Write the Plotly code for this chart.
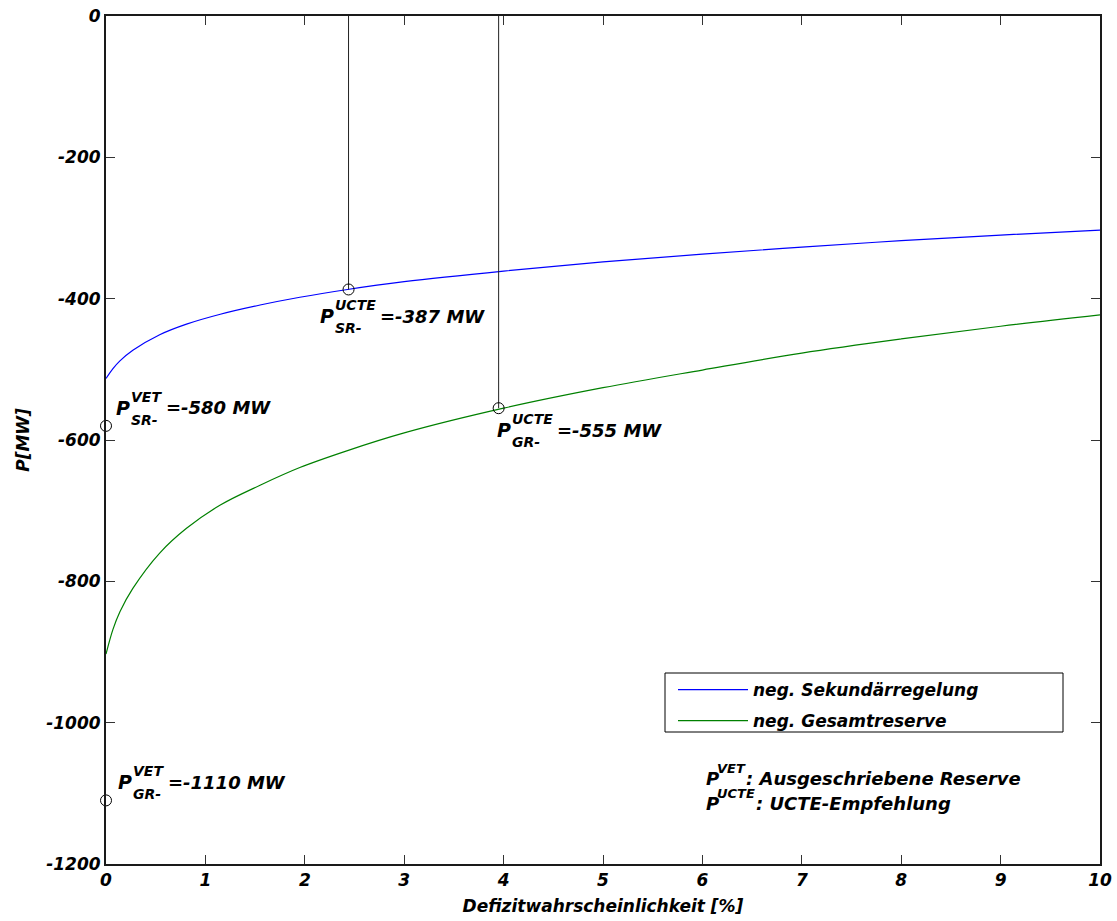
import plotly.graph_objects as go

# Deficit probability [%] at the sampled points of both reserve curves
x_pct = [0, 0.07, 0.14, 0.27, 0.54, 0.81, 1.15, 1.55, 1.95, 2.43,
         3.0, 4.0, 5.0, 6.0, 7.0, 8.0, 9.0, 10.0]
# Required negative reserve [MW]
p_sekundaer = [-513, -499, -488, -473, -451, -436, -422, -409, -398, -387,
               -376, -361, -348, -337, -327, -318, -310, -303]
p_gesamt = [-903, -868, -843, -810, -760, -725, -692, -664, -639, -615,
            -590, -555, -526, -501, -477, -457, -439, -423]

series_names = ["neg. Sekundärregelung", "neg. Gesamtreserve"]
series_colors = ["#0000ff", "#008000"]

# Tendered reserve (VET) and UCTE recommendation (UCTE) points
vet_x = [0, 0]
vet_y = [-580, -1110]
vet_sub = ["SR-", "GR-"]
ucte_x = [2.44, 3.95]
ucte_y = [-387, -555]
ucte_sub = ["SR-", "GR-"]

x_ticks = [0, 1, 2, 3, 4, 5, 6, 7, 8, 9, 10]
x_ticklabels = ["0", "1", "2", "3", "4", "5", "6", "7", "8", "9", "10"]
y_ticks = [-1200, -1000, -800, -600, -400, -200, 0]
y_ticklabels = ["-1200", "-1000", "-800", "-600", "-400", "-200", "0"]

W, H = 1117, 921
ML, MR, MT, MB = 106, 17, 16, 57
PW, PH = W - ML - MR, H - MT - MB

FAM = "DejaVu Sans"


def bfont(size):
    return dict(family=FAM, size=size, color="black", weight="bold", style="italic")


# DejaVu Sans Bold advance widths (em) for sizing the stacked super/subscripts
ADV = {"U": 0.812, "C": 0.734, "T": 0.682, "E": 0.683, "V": 0.774,
       "S": 0.720, "R": 0.770, "G": 0.821, "-": 0.411}


def text_w(s, size):
    return sum(ADV.get(c, 0.7) for c in s) * size


def px_x(px):
    return (px - ML) / PW


def px_y(py):
    return (MT + PH - py) / PH


fig = go.Figure()

for xs, ys, name, col in zip([x_pct, x_pct], [p_sekundaer, p_gesamt], series_names, series_colors):
    fig.add_trace(go.Scatter(
        x=xs, y=ys, mode="lines", name=name,
        line=dict(color=col, width=1.2, shape="spline", smoothing=1.0),
        legendgroup=name,
    ))

# drop lines from the top axis down to the UCTE points
for ux, uy in zip(ucte_x, ucte_y):
    fig.add_trace(go.Scatter(
        x=[ux, ux], y=[y_ticks[-1], uy], mode="lines",
        line=dict(color="#222222", width=1), showlegend=False, hoverinfo="skip",
    ))

fig.add_trace(go.Scatter(
    x=vet_x + ucte_x, y=vet_y + ucte_y, mode="markers",
    marker=dict(symbol="circle-open", size=11, color="black", line=dict(width=1, color="black")),
    showlegend=False, cliponaxis=False,
))

annotations = []


def point_label(x, y, sup, sub, value, dx, dy):
    """P with stacked super/subscript and value text, offset in px from a data point."""
    common = dict(xref="x", yref="y", x=x, y=y, showarrow=False,
                  xanchor="left", yanchor="middle", borderpad=0)
    annotations.append(dict(common, text="P", font=bfont(19), xshift=dx, yshift=-dy))
    sx = dx + 15
    annotations.append(dict(common, text=sup, font=bfont(14), xshift=sx, yshift=-(dy - 11)))
    annotations.append(dict(common, text=sub, font=bfont(14), xshift=sx, yshift=-(dy + 12)))
    vx = sx + max(text_w(sup, 14), text_w(sub, 14)) + 5
    annotations.append(dict(common, text=value, font=bfont(18), xshift=vx, yshift=-dy))


vet_offsets = [(9, -18), (11, -18)]
ucte_offsets = [(-30, 27), (-3, 22)]
for x, y, sub, (dx, dy) in zip(vet_x, vet_y, vet_sub, vet_offsets):
    point_label(x, y, "VET", sub, f"=-{abs(y)} MW", dx, dy)
for x, y, sub, (dx, dy) in zip(ucte_x, ucte_y, ucte_sub, ucte_offsets):
    point_label(x, y, "UCTE", sub, f"=-{abs(y)} MW", dx, dy)

# explanatory notes in the lower right corner
notes = [("VET", ": Ausgeschriebene Reserve", 778), ("UCTE", ": UCTE-Empfehlung", 803)]
for sup, txt, cy in notes:
    base = dict(xref="paper", yref="paper", showarrow=False, xanchor="left",
                yanchor="middle", borderpad=0)
    annotations.append(dict(base, x=px_x(705), y=px_y(cy), text="P", font=bfont(18)))
    annotations.append(dict(base, x=px_x(716), y=px_y(cy - 10), text=sup, font=bfont(13)))
    annotations.append(dict(base, x=px_x(716 + text_w(sup, 13) + 1), y=px_y(cy),
                            text=txt, font=bfont(18)))

axis_common = dict(
    showline=True, linecolor="#1a1a1a", linewidth=2, mirror="ticks",
    ticks="inside", ticklen=9, tickwidth=1, tickcolor="#333333",
    showgrid=False, zeroline=False, tickfont=bfont(17), automargin=False,
)

fig.update_layout(
    width=W, height=H,
    autosize=False,
    margin=dict(l=ML, r=MR, t=MT, b=MB, autoexpand=False),
    plot_bgcolor="white", paper_bgcolor="white",
    xaxis=dict(axis_common, range=[0, 10], tickvals=x_ticks, ticktext=x_ticklabels,
               title=dict(text="Defizitwahrscheinlichkeit [%]", font=bfont(17), standoff=11)),
    yaxis=dict(axis_common, range=[-1200, 0], tickvals=y_ticks, ticktext=y_ticklabels,
               title=dict(text="P[MW]", font=bfont(17), standoff=12)),
    showlegend=True,
    legend=dict(
        x=px_x(673), y=px_y(672), xanchor="left", yanchor="top",
        bgcolor="rgba(0,0,0,0)", borderwidth=0, font=bfont(17),
        itemwidth=70, tracegroupgap=6,
    ),
    shapes=[dict(type="rect", xref="paper", yref="paper",
                 x0=px_x(665), x1=px_x(1063), y0=px_y(732), y1=px_y(673),
                 line=dict(color="black", width=1), fillcolor="white", layer="below")],
    annotations=annotations,
)

fig.write_html("out.html")
